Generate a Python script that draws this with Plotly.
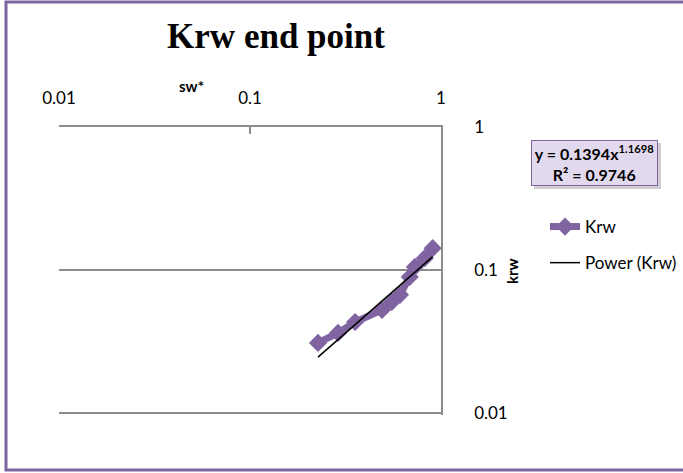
import plotly.graph_objects as go

# Data
sw_star = [0.227, 0.289, 0.355, 0.491, 0.552, 0.61, 0.686, 0.73, 0.822, 0.905]
krw = [0.0309, 0.0363, 0.0433, 0.0525, 0.0598, 0.067, 0.0894, 0.105, 0.121, 0.142]

# Power trendline coefficients shown on the chart
coef_a = 0.1394
coef_b = 1.1698
r_squared = 0.9746

x_ticks = [0.01, 0.1, 1]
x_tick_labels = ["0.01", "0.1", "1"]
y_ticks = [0.01, 0.1, 1]
y_tick_labels = ["0.01", "0.1", "1"]

PURPLE = "#8064A2"
GRID = "#8C8C8C"
FONT = "Lato"

# Plot area in pixels (0.01 on the y axis sits at pixel 413, plot box ends 2px lower
# so that the 0.01 gridline is kept)
W, H = 683, 473
L, R, T, B = 59, 441, 127, 415
DEC = 143.0  # pixels per decade on the y axis
y_low = -2 - (B - 413) / DEC


def px(x):
    return (x - L) / (R - L)


def py(y):
    return (B - y) / (B - T)


trend_x = [min(sw_star), max(sw_star)]
trend_y = [coef_a * v ** coef_b for v in trend_x]

fig = go.Figure()
fig.add_trace(go.Scatter(
    x=sw_star, y=krw, mode="lines+markers", name="Krw",
    line=dict(color=PURPLE, width=7),
    marker=dict(symbol="diamond", size=14, color=PURPLE),
    legendgroup="a",
))
fig.add_trace(go.Scatter(
    x=trend_x, y=trend_y, mode="lines", name="Power (Krw)",
    line=dict(color="black", width=1.5),
    legendgroup="b",
))

fig.update_layout(
    width=W, height=H,
    margin=dict(l=L, r=W - R, t=T, b=H - B, pad=0, autoexpand=False),
    paper_bgcolor="white", plot_bgcolor="white",
    font=dict(family=FONT, size=17, color="black"),
    title=dict(
        text="<b>Krw end point</b>",
        font=dict(family="Liberation Serif", size=35, color="black"),
        x=276 / W, xref="container", xanchor="center",
        y=1 - 36 / H, yref="container", yanchor="middle",
    ),
    showlegend=True,
    legend=dict(
        x=px(545), y=py(209), xanchor="left", yanchor="top",
        font=dict(family=FONT, size=17, color="black"),
        bgcolor="rgba(0,0,0,0)", traceorder="grouped", tracegroupgap=11,
        itemwidth=30,
    ),
    xaxis=dict(
        type="log", range=[-2, 0], side="top",
        tickvals=x_ticks, ticktext=x_tick_labels,
        showgrid=False, zeroline=False, automargin=False,
        showline=True, linecolor=GRID, linewidth=1.5,
        ticks="inside", ticklen=7, tickcolor=GRID, tickwidth=1.5,
        ticklabelstandoff=14,
        tickfont=dict(family=FONT, size=17, color="black"),
    ),
    yaxis=dict(
        type="log", range=[y_low, 0], side="right",
        tickvals=y_ticks, ticktext=y_tick_labels,
        showgrid=True, gridcolor=GRID, gridwidth=1.5,
        zeroline=False, automargin=False,
        showline=True, linecolor=GRID, linewidth=1.5,
        ticks="", ticklabelstandoff=28,
        tickfont=dict(family=FONT, size=17, color="black"),
    ),
    shapes=[
        # chart border
        dict(type="rect", xref="paper", yref="paper",
             x0=px(6), x1=px(700), y0=py(470), y1=py(2),
             line=dict(color=PURPLE, width=3), fillcolor="rgba(0,0,0,0)",
             layer="above"),
        # shadow of equation box
        dict(type="rect", xref="paper", yref="paper",
             x0=px(534), x1=px(661), y0=py(189), y1=py(143),
             line=dict(width=0), fillcolor="#CFCFCF", layer="below"),
    ],
    annotations=[
        dict(text="<b>sw*</b>", xref="paper", yref="paper",
             x=px(191), y=py(86), xanchor="center", yanchor="middle",
             showarrow=False,
             font=dict(family=FONT, size=15, color="black")),
        dict(text="<b>krw</b>", xref="paper", yref="paper",
             x=px(512), y=py(271), xanchor="center", yanchor="middle",
             showarrow=False, textangle=-90,
             font=dict(family=FONT, size=15, color="black")),
        dict(text=f"<b>y = {coef_a}x<sup>{coef_b}</sup><br>R² = {r_squared}</b>",
             xref="paper", yref="paper",
             x=px(594.5), y=py(163), xanchor="center", yanchor="middle",
             showarrow=False,
             width=121, height=40, align="center",
             bgcolor="#E2D9EE", bordercolor=PURPLE, borderwidth=1, borderpad=2,
             font=dict(family=FONT, size=16, color="black")),
    ],
)

fig.write_html("out.html", config={"displayModeBar": False},
               post_script="document.body.style.margin='0';")
